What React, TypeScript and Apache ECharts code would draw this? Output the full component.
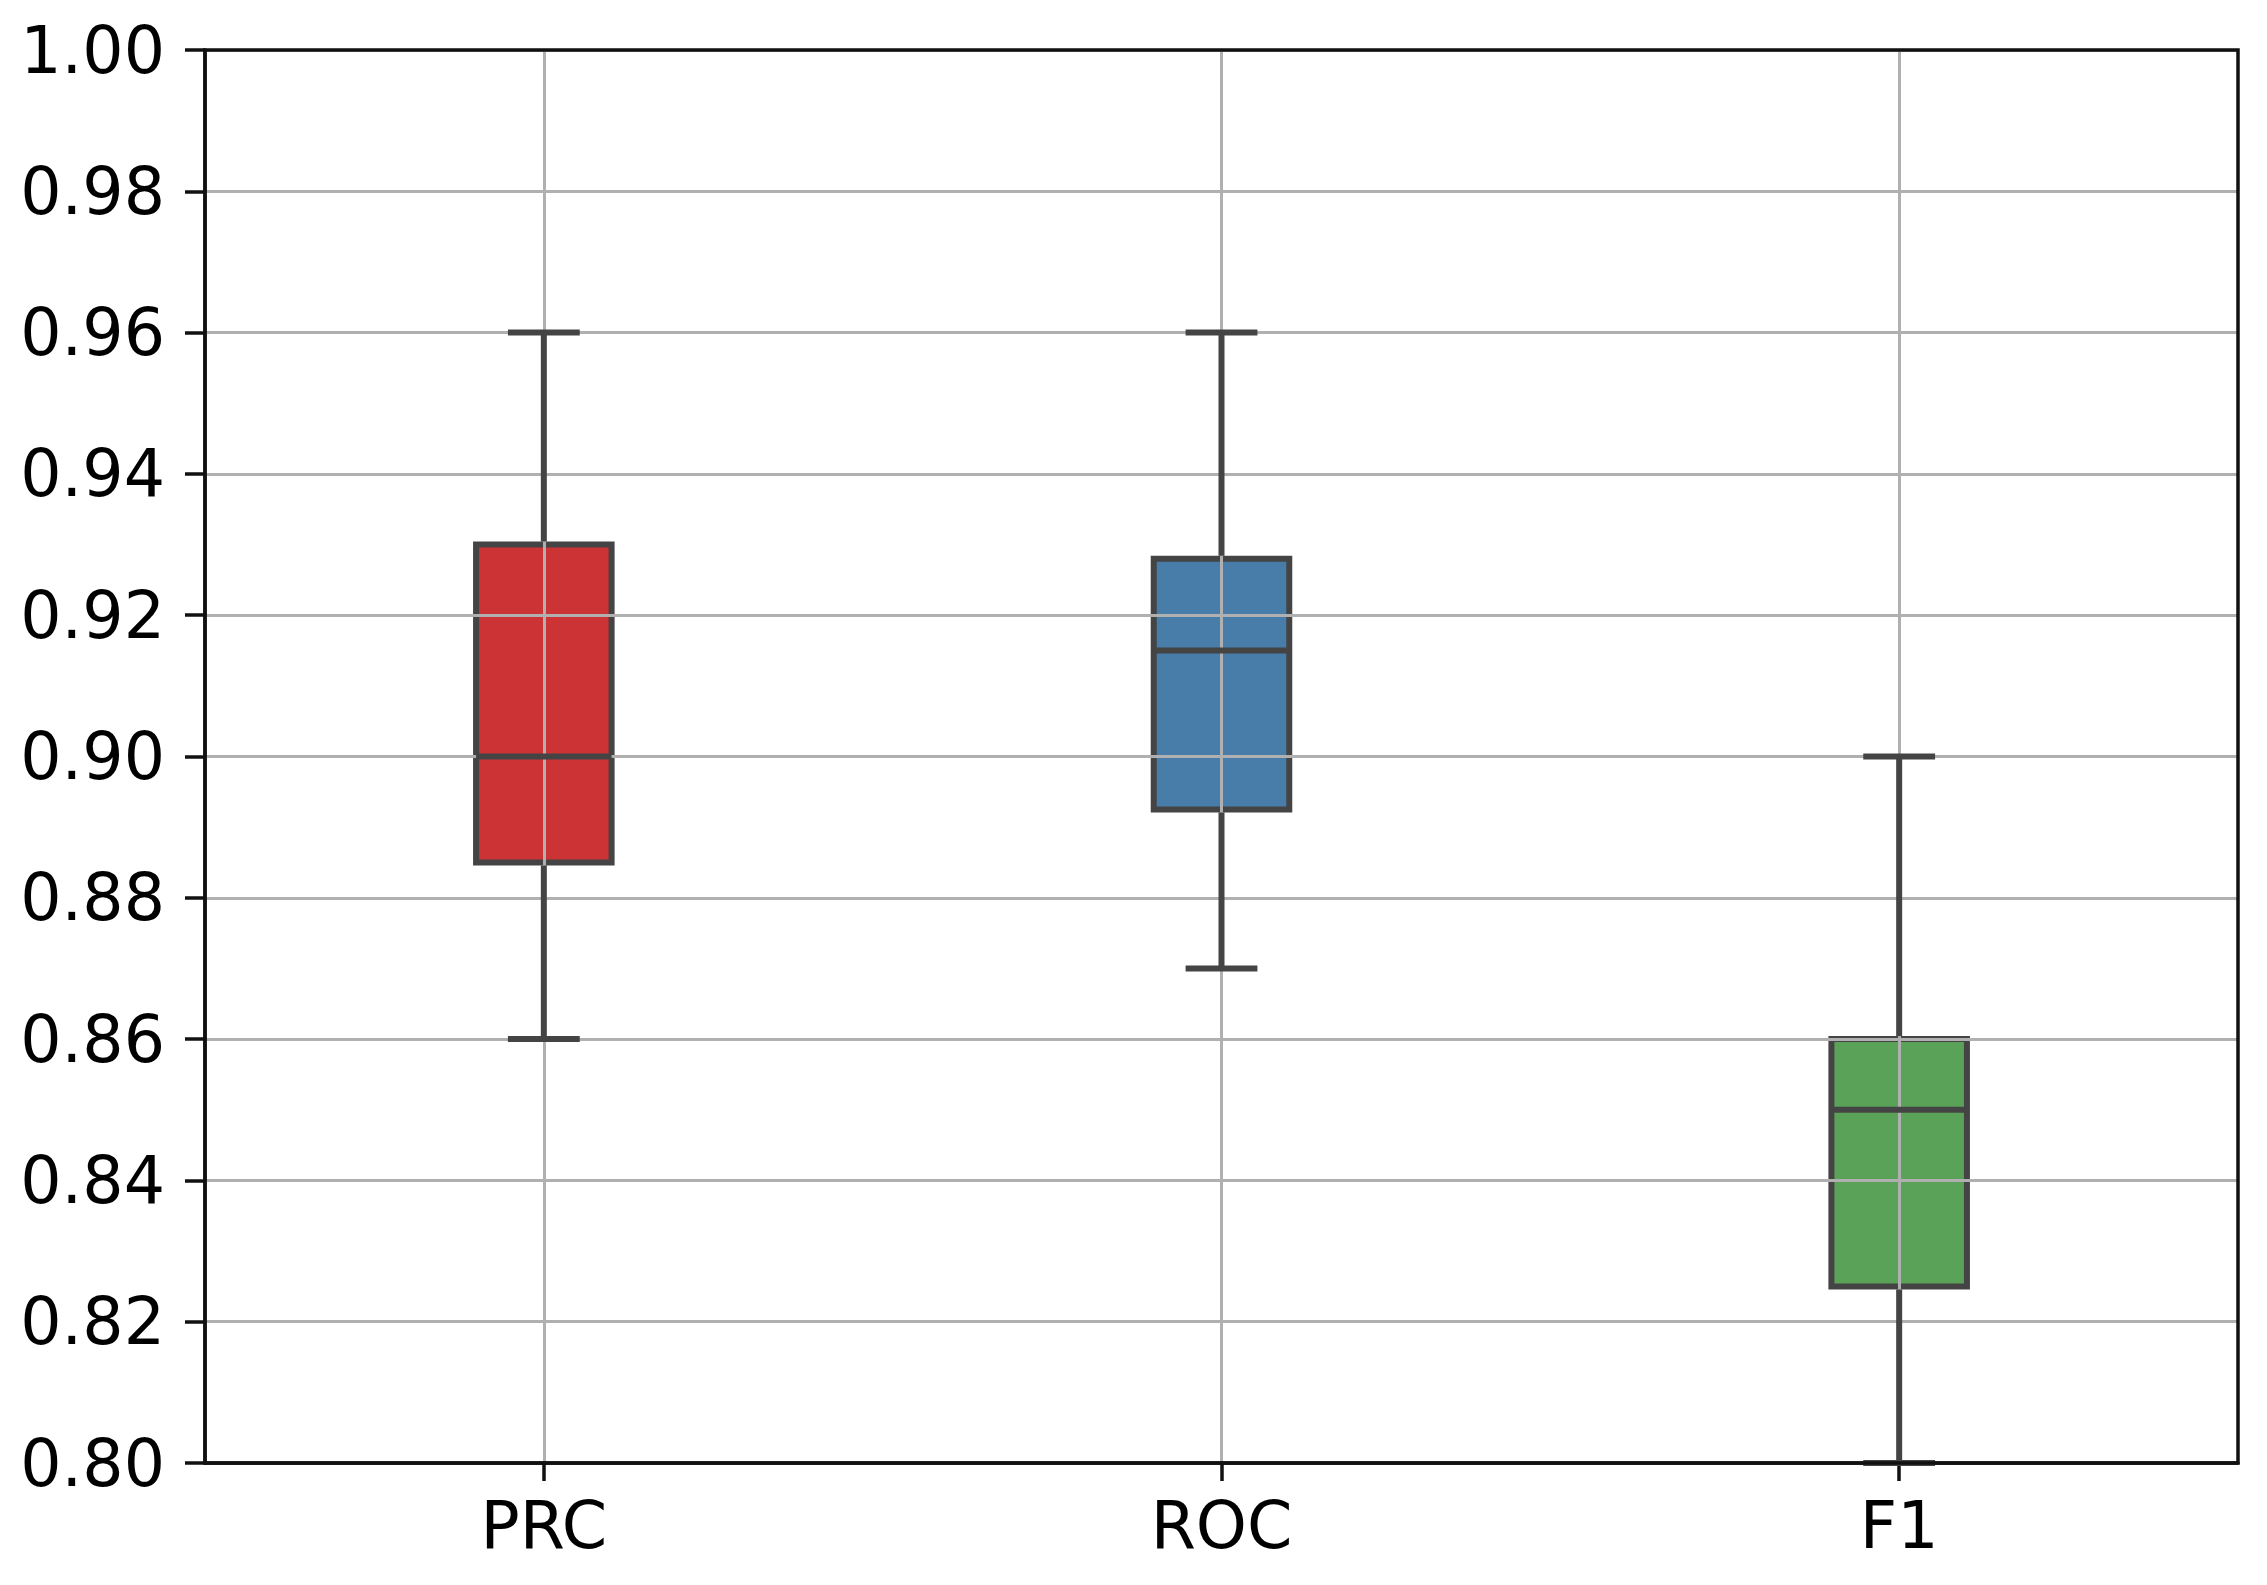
import React, { useEffect, useRef } from "react";
import * as echarts from "echarts";

const categories = ["PRC", "ROC", "F1"];
const whiskerLow = [0.86, 0.87, 0.8];
const q1 = [0.885, 0.8925, 0.825];
const median = [0.9, 0.915, 0.85];
const q3 = [0.93, 0.928, 0.86];
const whiskerHigh = [0.96, 0.96, 0.9];
const boxColors = ["#cb3334", "#477da8", "#59a257"];

const LINE = "#444444";
const LW = 6;
const BOX_FRAC = 0.2;
const CAP_FRAC = 0.106;

export default function App() {
  const ref = useRef<HTMLDivElement>(null);
  useEffect(() => {
    if (!ref.current) return;
    const chart = echarts.init(ref.current, undefined, { renderer: "svg" });
    const data = categories.map((c, i) => [i, whiskerLow[i], q1[i], median[i], q3[i], whiskerHigh[i]]);

    const boxSeries = {
      type: "custom",
      z: 1,
      data,
      encode: { x: 0, y: [1, 2, 3, 4, 5] },
      renderItem: (params: any, api: any) => {
        const x = api.value(0);
        const idx = params.dataIndex;
        const band = api.size([1, 0])[0];
        const hw = (band * BOX_FRAC) / 2;
        const pQ1 = api.coord([x, api.value(2)]);
        const pQ3 = api.coord([x, api.value(4)]);
        return {
          type: "rect",
          shape: { x: pQ1[0] - hw, y: pQ3[1], width: hw * 2, height: pQ1[1] - pQ3[1] },
          style: { fill: boxColors[idx], stroke: LINE, lineWidth: LW },
        };
      },
    };

    const lineSeries = {
      type: "custom",
      z: 3,
      data,
      encode: { x: 0, y: [1, 2, 3, 4, 5] },
      renderItem: (params: any, api: any) => {
        const x = api.value(0);
        const band = api.size([1, 0])[0];
        const hw = (band * BOX_FRAC) / 2;
        const cw = (band * CAP_FRAC) / 2;
        const pMin = api.coord([x, api.value(1)]);
        const pQ1 = api.coord([x, api.value(2)]);
        const pMed = api.coord([x, api.value(3)]);
        const pQ3 = api.coord([x, api.value(4)]);
        const pMax = api.coord([x, api.value(5)]);
        const st = { stroke: LINE, lineWidth: LW };
        const cx = pMed[0];
        return {
          type: "group",
          children: [
            { type: "line", shape: { x1: cx, y1: pQ1[1] + LW / 2, x2: cx, y2: pMin[1] }, style: st },
            { type: "line", shape: { x1: cx, y1: pQ3[1] - LW / 2, x2: cx, y2: pMax[1] }, style: st },
            { type: "line", shape: { x1: cx - cw, y1: pMin[1], x2: cx + cw, y2: pMin[1] }, style: st },
            { type: "line", shape: { x1: cx - cw, y1: pMax[1], x2: cx + cw, y2: pMax[1] }, style: st },
            { type: "line", shape: { x1: cx - hw, y1: pMed[1], x2: cx + hw, y2: pMed[1] }, style: st },
          ],
        };
      },
    };

    chart.setOption({
      animation: false,
      backgroundColor: "#ffffff",
      grid: {
        left: 205,
        right: 29,
        top: 50,
        bottom: 122,
        z: 4,
        show: true,
        borderColor: "#111",
        borderWidth: 3.5,
        backgroundColor: "transparent",
      },
      xAxis: {
        type: "category",
        data: categories,
        z: 2,
        axisLine: { show: true, lineStyle: { color: "#111", width: 3.5 } },
        axisTick: { show: true, alignWithLabel: true, length: 18, lineStyle: { color: "#111", width: 3.5 } },
        axisLabel: { fontFamily: "DejaVu Sans", fontSize: 65, color: "#000", margin: 30 },
        splitLine: { show: true, alignWithLabel: true, lineStyle: { color: "#b0b0b0", width: 3 } },
      },
      yAxis: {
        type: "value",
        min: 0.8,
        max: 1.0,
        interval: 0.02,
        z: 2,
        axisLine: { show: true, lineStyle: { color: "#111", width: 3.5 } },
        axisTick: { show: true, length: 20, lineStyle: { color: "#111", width: 3.5 } },
        axisLabel: {
          fontFamily: "DejaVu Sans",
          fontSize: 65,
          color: "#000",
          margin: 40,
          formatter: (v: number) => v.toFixed(2),
        },
        splitLine: { show: true, lineStyle: { color: "#b0b0b0", width: 3 } },
      },
      series: [boxSeries, lineSeries],
    });
    return () => chart.dispose();
  }, []);
  return (
    <div
      ref={ref}
      style={{ position: "absolute", left: 0, top: 0, width: 2267, height: 1585 }}
    />
  );
}
